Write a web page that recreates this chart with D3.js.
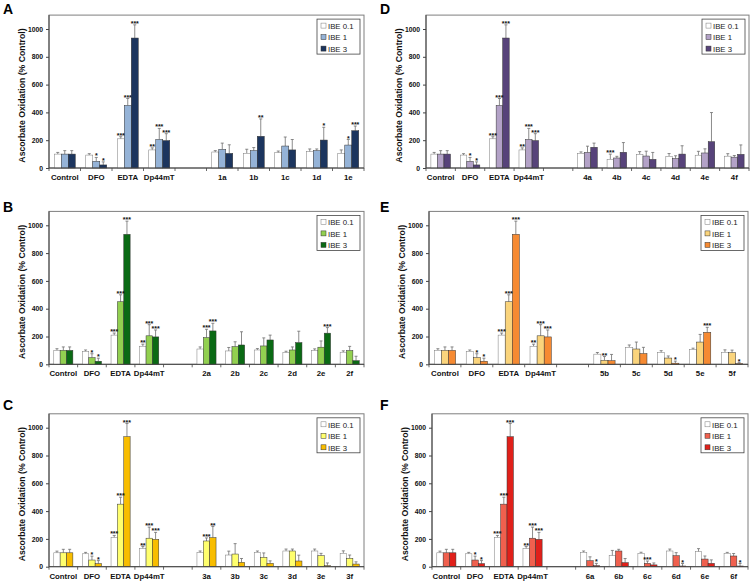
<!DOCTYPE html>
<html><head><meta charset="utf-8">
<script src="https://cdn.jsdelivr.net/npm/d3@7"></script>
<style>body{margin:0;background:#fff}svg{display:block}</style>
</head><body>
<script>
// ---------- DATA ----------
const seriesNames = ["IBE 0.1", "IBE 1", "IBE 3"];
const refCats = ["Control", "DFO", "EDTA", "Dp44mT"];
const refIBE01 = [100, 93, 210, 130];
const refIBE1  = [100, 48, 450, 205];
const refIBE3  = [100, 22, 935, 197];
const refErr01 = [12, 10, 15, 15];
const refErr1  = [25, 28, 50, 80];
const refErr3  = [25, 22, 95, 50];
const refSig01 = ["", "", "***", "**"];
const refSig1  = ["", "*", "***", "***"];
const refSig3  = ["", "*", "***", "***"];
const yTicks = [0, 200, 400, 600, 800, 1000];

const catsA = ["1a", "1b", "1c", "1d", "1e"];
const aIBE01 = [115, 105, 110, 117, 105];
const aIBE1  = [134, 125, 158, 125, 165];
const aIBE3  = [105, 228, 130, 201, 268];
const aErr01 = [10, 30, 12, 20, 25];
const aErr1  = [45, 22, 65, 12, 40];
const aErr3  = [62, 125, 75, 92, 34];
const aSig01 = ["", "", "", "", ""];
const aSig1  = ["", "", "", "", "*"];
const aSig3  = ["", "**", "", "*", "***"];

const catsB = ["2a", "2b", "2c", "2d", "2e", "2f"];
const bIBE01 = [110, 96, 103, 84, 99, 87];
const bIBE1  = [192, 127, 132, 103, 123, 99];
const bIBE3  = [240, 139, 175, 156, 224, 26];
const bErr01 = [15, 25, 10, 10, 12, 10];
const bErr1  = [60, 35, 58, 22, 45, 30];
const bErr3  = [55, 95, 35, 82, 40, 32];
const bSig01 = ["", "", "", "", "", ""];
const bSig1  = ["***", "", "", "", "", ""];
const bSig3  = ["***", "", "", "", "***", ""];

const catsC = ["3a", "3b", "3c", "3d", "3e", "3f"];
const cIBE01 = [101, 84, 103, 113, 113, 96];
const cIBE1  = [185, 91, 67, 113, 79, 60];
const cIBE3  = [209, 31, 24, 41, 7, 19];
const cErr01 = [12, 28, 10, 14, 14, 18];
const cErr1  = [22, 75, 32, 14, 17, 24];
const cErr3  = [80, 28, 18, 42, 20, 16];
const cSig01 = ["", "", "", "", "", ""];
const cSig1  = ["***", "", "", "", "", ""];
const cSig3  = ["**", "", "", "", "", ""];

const catsD = ["4a", "4b", "4c", "4d", "4e", "4f"];
const dIBE01 = [106, 62, 98, 84, 92, 85];
const dIBE1  = [112, 72, 86, 68, 108, 78];
const dIBE3  = [149, 113, 62, 100, 189, 98];
const dErr01 = [10, 38, 20, 20, 28, 18];
const dErr1  = [45, 12, 35, 20, 30, 12];
const dErr3  = [30, 70, 50, 60, 210, 68];
const dSig01 = ["", "***", "", "", "", ""];
const dSig1  = ["", "", "", "", "", ""];
const dSig3  = ["", "", "", "", "", ""];

const catsE = ["5b", "5c", "5d", "5e", "5f"];
const eIBE01 = [73, 122, 84, 106, 86];
const eIBE1  = [28, 110, 45, 160, 84];
const eIBE3  = [26, 77, 8, 230, 5];
const eErr01 = [12, 17, 14, 10, 18];
const eErr1  = [28, 50, 15, 55, 18];
const eErr3  = [45, 45, 15, 36, 7];
const eSig01 = ["", "", "", "", ""];
const eSig1  = ["**", "", "", "", ""];
const eSig3  = ["", "", "*", "***", "*"];

const catsF = ["6a", "6b", "6c", "6d", "6e", "6f"];
const fIBE01 = [103, 79, 96, 113, 108, 96];
const fIBE1  = [43, 113, 24, 79, 55, 77];
const fIBE3  = [7, 29, 13, 5, 24, 5];
const fErr01 = [10, 38, 8, 14, 22, 7];
const fErr1  = [28, 12, 17, 22, 22, 18];
const fErr3  = [17, 30, 14, 18, 25, 18];
const fSig01 = ["", "", "", "", "", ""];
const fSig1  = ["", "", "***", "", "", ""];
const fSig3  = ["*", "", "", "*", "", "*"];

// ---------- LAYOUT / STYLE ----------
const FONT = "'Liberation Sans', Arial, Helvetica, sans-serif";
const panels = [
  {id:"A", cats:catsA, v:[aIBE01,aIBE1,aIBE3], e:[aErr01,aErr1,aErr3], s:[aSig01,aSig1,aSig3],
   colors:["#ffffff","#95b3d7","#1c355e"], x0:49, x1:364, yb:168, lx:3, ly:14},
  {id:"B", cats:catsB, v:[bIBE01,bIBE1,bIBE3], e:[bErr01,bErr1,bErr3], s:[bSig01,bSig1,bSig3],
   colors:["#ffffff","#92d050","#0a6a14"], x0:49, x1:364, yb:364.3, lx:3, ly:212},
  {id:"C", cats:catsC, v:[cIBE01,cIBE1,cIBE3], e:[cErr01,cErr1,cErr3], s:[cSig01,cSig1,cSig3],
   colors:["#ffffff","#ffff6e","#f8bd00"], x0:49, x1:364, yb:566.7, lx:3, ly:410},
  {id:"D", cats:catsD, v:[dIBE01,dIBE1,dIBE3], e:[dErr01,dErr1,dErr3], s:[dSig01,dSig1,dSig3],
   colors:["#ffffff","#b3a2c7","#57437a"], x0:426, x1:749, yb:168, lx:380, ly:14},
  {id:"E", cats:catsE, v:[eIBE01,eIBE1,eIBE3], e:[eErr01,eErr1,eErr3], s:[eSig01,eSig1,eSig3],
   colors:["#ffffff","#fad47c","#f68a32"], x0:429, x1:748, yb:364.3, lx:380, ly:212},
  {id:"F", cats:catsF, v:[fIBE01,fIBE1,fIBE3], e:[fErr01,fErr1,fErr3], s:[fSig01,fSig1,fSig3],
   colors:["#ffffff","#f0604e","#e0201a"], x0:432, x1:748, yb:566.7, lx:380, ly:410}
];
const PX_PER_UNIT = 0.139;

const svg = d3.select("body").append("svg").attr("width",754).attr("height",584)
  .style("font-family", FONT);
svg.append("rect").attr("width",754).attr("height",584).attr("fill","#fff");

panels.forEach(p => {
  const g = svg.append("g");
  const allCats = refCats.concat([" "], p.cats);
  const refVals = [refIBE01, refIBE1, refIBE3];
  const refErrs = [refErr01, refErr1, refErr3];
  const refSigs = [refSig01, refSig1, refSig3];
  const x = d3.scaleBand().domain(allCats).range([p.x0, p.x1]).paddingInner(0).paddingOuter(0);
  const y = d3.scaleLinear().domain([0, 1100]).range([p.yb, p.yb - 1100*PX_PER_UNIT]);
  const groupW = x.bandwidth()*2/3;
  const xs = d3.scaleBand().domain([0,1,2]).range([0, groupW]);

  g.append("rect").attr("x", p.x0).attr("y", y(1100)).attr("width", p.x1-p.x0).attr("height", p.yb - y(1100))
    .attr("fill","none").attr("stroke","#7f7f7f").attr("stroke-width",1);

  const rows = [];
  allCats.forEach((c, ci) => {
    if (c === " ") return;
    const isRef = ci < refCats.length;
    const k = isRef ? ci : ci - refCats.length - 1;
    for (let s = 0; s < 3; s++) {
      rows.push({
        cat: c, s: s,
        v: isRef ? refVals[s][k] : p.v[s][k],
        e: isRef ? refErrs[s][k] : p.e[s][k],
        sig: isRef ? refSigs[s][k] : p.s[s][k]
      });
    }
  });
  const bx = d => x(d.cat) + (x.bandwidth()-groupW)/2 + xs(d.s);
  const bw = xs.bandwidth();

  const eg = g.append("g").attr("stroke","#6e6e6e").attr("stroke-width",0.8);
  rows.forEach(d => {
    const cx = bx(d) + bw/2;
    eg.append("line").attr("x1",cx).attr("x2",cx).attr("y1",y(d.v)).attr("y2",y(d.v+d.e));
    eg.append("line").attr("x1",cx-1.5).attr("x2",cx+1.5).attr("y1",y(d.v+d.e)).attr("y2",y(d.v+d.e));
  });

  g.append("g").selectAll("rect").data(rows).join("rect")
    .attr("x", bx).attr("width", bw)
    .attr("y", d => y(d.v)).attr("height", d => p.yb - y(d.v))
    .attr("fill", d => p.colors[d.s])
    .attr("stroke", d => d.s === 0 ? "#7a7a7a" : "#333")
    .attr("stroke-width", 0.5);

  g.append("g").selectAll("text").data(rows.filter(d => d.sig)).join("text")
    .attr("x", d => bx(d) + bw/2).attr("y", d => y(d.v + d.e) + 1)
    .attr("text-anchor","middle").attr("font-size", 7).attr("font-weight","bold")
    .attr("fill","#111").text(d => d.sig);

  const ya = d3.axisLeft(y).tickValues(yTicks).tickFormat(d3.format("d")).tickSize(3).tickPadding(3);
  const yg = g.append("g").attr("transform", `translate(${p.x0},0)`).call(ya);
  yg.select(".domain").attr("stroke","#444").attr("d", `M-0,${p.yb}V${y(1100)}`);
  yg.selectAll(".tick line").attr("stroke","#444");
  yg.selectAll(".tick text").attr("font-size",6.8).attr("font-weight","bold").attr("fill","#111")
    .style("font-family", FONT);

  g.append("line").attr("x1",p.x0).attr("x2",p.x1).attr("y1",p.yb).attr("y2",p.yb).attr("stroke","#444");
  const bounds = allCats.map(c => x(c)).concat([p.x1]);
  g.append("g").selectAll("line").data(bounds).join("line")
    .attr("x1", d => d).attr("x2", d => d).attr("y1", p.yb).attr("y2", p.yb+3)
    .attr("stroke","#444").attr("stroke-width",0.8);
  g.append("g").selectAll("text").data(allCats.filter(c => c !== " ")).join("text")
    .attr("x", c => x(c) + x.bandwidth()/2).attr("y", p.yb + 12)
    .attr("text-anchor","middle").attr("font-size",7.8).attr("font-weight","bold").attr("fill","#111")
    .text(c => c);

  g.append("text").attr("transform", `translate(${p.x0-24},${(p.yb + y(1100))/2 + 4}) rotate(-90)`)
    .attr("text-anchor","middle").attr("font-size",8.7).attr("font-weight","bold").attr("fill","#111")
    .text("Ascorbate Oxidation (% Control)");

  g.append("text").attr("x", p.lx).attr("y", p.ly).attr("font-size",14).attr("font-weight","bold")
    .attr("fill","#000").text(p.id);

  const lw = 43, lh = 35;
  const lx = p.x1 - 4 - lw, ly = y(1100) + 4;
  const lg = g.append("g").attr("transform", `translate(${lx},${ly})`);
  lg.append("rect").attr("width", lw).attr("height", lh).attr("fill","#fff").attr("stroke","#444").attr("stroke-width",0.8);
  seriesNames.forEach((n, i) => {
    lg.append("rect").attr("x",4).attr("y", 4 + i*11.5).attr("width",5).attr("height",5)
      .attr("fill", p.colors[i]).attr("stroke", i===0 ? "#7a7a7a" : "#333").attr("stroke-width",0.5);
    lg.append("text").attr("x",11).attr("y", 9.8 + i*11.5).attr("font-size",7.8).attr("fill","#222").text(n);
  });
});
</script>
</body></html>
